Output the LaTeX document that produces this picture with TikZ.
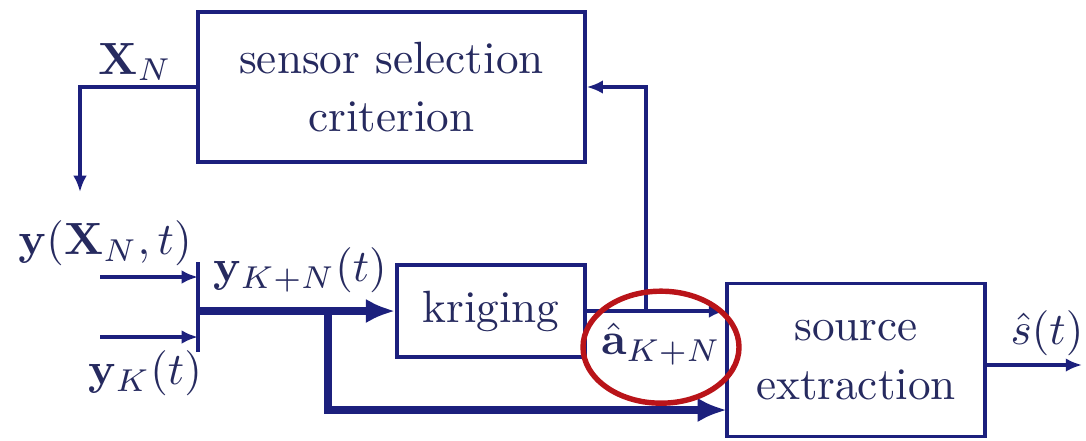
\documentclass[tikz,border=0pt]{standalone}
\usepackage{amsmath,amssymb}
\usetikzlibrary{arrows.meta}
\definecolor{lineblue}{RGB}{28,32,125}
\definecolor{textblue}{RGB}{38,42,95}
\definecolor{markred}{RGB}{185,20,25}

\begin{document}
\begin{tikzpicture}[x=0.2212pt, y=-0.2212pt, every node/.style={font=\normalsize, text=textblue},
	block/.style={draw=lineblue, line width=0.75pt, inner sep=0pt, align=center},
	sig/.style={draw=lineblue, line width=0.75pt, -{Latex[length=3.6pt, width=3pt]}},
	bus/.style={draw=lineblue, line width=1.8pt, -{Latex[length=6.5pt, width=5.4pt]}}]
	\useasboundingbox (0,0) rectangle (1086,440);
	\node[block, minimum width=85.6pt, minimum height=33.2pt] (sel) at (391.5,87) {sensor selection\\[1pt]criterion};
	\node[block, minimum width=41.6pt, minimum height=20.4pt] (krig) at (491,311) {kriging};
	\node[block, minimum width=57.1pt, minimum height=33.8pt] (src) at (856,360) {source\\[1pt]extraction};
	\node (xn) at (135,62) {$\mathbf{X}_N$};
	\node (yxn) at (105,243) {$\mathbf{y}(\mathbf{X}_N,t)$};
	\node (yk) at (145,373) {$\mathbf{y}_K(t)$};
	\node (ykn) at (300,270) {$\mathbf{y}_{K+N}(t)$};
	\node (ahat) at (661,344) {$\hat{\mathbf{a}}_{K+N}$};
	\node[inner sep=1pt] (shat) at (1047,333) {$\hat{s}(t)$};
	\coordinate (sel in) at (80,192);
	\coordinate (bar top) at (198,262);
	\coordinate (bar bot) at (198,352);
	\coordinate (in1) at (100,277);
	\coordinate (in2) at (100,337);
	\coordinate (split) at (328,312);
	\coordinate (src in) at (727,410);
	\coordinate (fb) at (646,312);
	\coordinate (out) at (1082,365);
	% sensor selection output
	\draw[sig] (sel.west) -| (sel in);
	% merging the measurements
	\draw[lineblue, line width=0.75pt] (bar top) -- (bar bot);
	\draw[sig] (in1) -- (bar top |- in1);
	\draw[sig] (in2) -- (bar top |- in2);
	\draw[bus] (bar top |- krig.west) -- (krig.west);
	\draw[bus] (split) |- (src in);
	% kriging output and feedback
	\draw[sig] (krig.east) -- (src.west |- krig.east);
	\draw[sig] (fb) |- (sel.east);
	\draw[sig] (src.east |- out) -- (out);
	\draw[markred, line width=1.2pt] ([yshift=-0.7pt]ahat.center) ellipse [x radius=78, y radius=56];
\end{tikzpicture}
\end{document}
